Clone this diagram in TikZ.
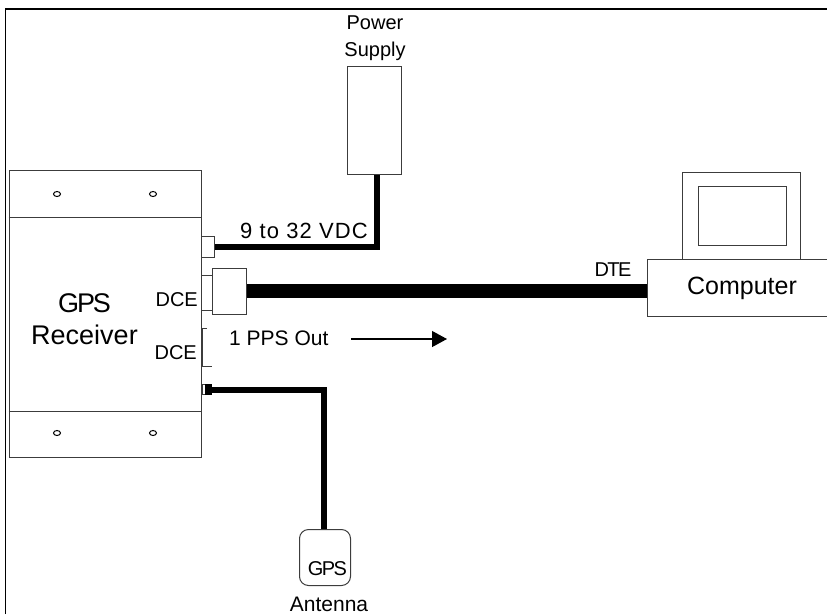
\documentclass[tikz,border=0pt]{standalone}
\usepackage{fontspec}
\setmainfont{Liberation Sans}
\newfontfamily\tightfont[LetterSpace=-8]{Liberation Sans}
\newfontfamily\wideFont[LetterSpace=5]{Liberation Sans}
\usetikzlibrary{arrows.meta,positioning,shapes.geometric}
\definecolor{boxgray}{RGB}{60,60,60}
\tikzset{
    box/.style={rectangle, draw=boxgray, fill=white, line width=1pt, inner sep=0pt, anchor=north west},
    hole/.style={ellipse, draw=black, line width=1pt, minimum width=7pt, minimum height=5pt, inner sep=0pt},
    wire/.style={line width=5.5pt, black},
    thickwire/.style={line width=13.5pt, black},
    caption/.style={font=\fontsize{21}{27}\selectfont, align=center, inner sep=0pt},
    smallcaption/.style={font=\fontsize{20}{24}\selectfont, inner sep=0pt},
}
\begin{document}
\begin{tikzpicture}[x=1pt,y=-1pt]
    \useasboundingbox (0,0) rectangle (827,614);
    % Frame
    \draw[line width=1.3pt] (5.5,614) -- (5.5,9) -- (827,9);

    % GPS receiver
    \node[box, minimum width=192.5pt, minimum height=287pt] (receiver) at (8.5,170) {};
    \draw[line width=1pt, boxgray] (8.5,217) -- (201,217);
    \draw[line width=1pt, boxgray] (8.5,411) -- (201,411);
    \foreach \x/\y/\name in {57/194/a, 153/194/b, 57/433/c, 153/433/d} {
        \node[hole] (hole\name) at (\x,\y) {};
    }
    \node[caption, font=\fontsize{27}{32}\selectfont] (gpslabel) at (84.5,319) {{\tightfont GPS}\\Receiver};

    % Power supply
    \node[box, minimum width=54pt, minimum height=108pt] (power) at (347,66) {};
    \node[caption, font=\fontsize{20}{27}\selectfont] (powerlabel) at (375,38) {Power\\Supply};
    \node[box, minimum width=13pt, minimum height=21pt] (powerplug) at (201,236) {};
    \coordinate (powercorner) at (377,247);
    \draw[wire, line join=miter] (powerplug.east) -- (powercorner) -- (power.south -| powercorner);
    \node[smallcaption, font=\fontsize{22}{24}\selectfont\wideFont, anchor=base west] (voltlabel) at (240,238) {9 to 32 VDC};

    % Computer
    \node[box, minimum width=118pt, minimum height=87pt] (monitor) at (682,172) {};
    \node[box, minimum width=88pt, minimum height=59pt] (screen) at (698,186) {};
    \node[box, minimum width=190pt, minimum height=57pt] (computer) at (647,259) {};
    \node[smallcaption, font=\fontsize{25}{27}\selectfont, anchor=base] (computerlabel) at (742,294) {Computer};

    % Serial link
    \node[box, minimum width=11pt, minimum height=35pt] (serialport) at (201,275) {};
    \node[box, minimum width=34pt, minimum height=46pt] (serialplug) at (212,268) {};
    \draw[thickwire] (serialplug.east |- 0,291) -- (computer.west |- 0,291);
    \node[smallcaption, font=\fontsize{20}{22}\selectfont\tightfont, anchor=base] (dtelabel) at (613,276) {DTE};
    \node[smallcaption, anchor=base east] (dcetop) at (198,306) {DCE};

    % 1 PPS output
    \node[smallcaption, anchor=base east] (dcebottom) at (197,359) {DCE};
    \coordinate (brtop) at (207,328);
    \coordinate (brbottom) at (212,366);
    \draw[line width=0.8pt, boxgray] (brtop) -- (202,328) -- (202,366) -- (brbottom);
    \node[smallcaption, font=\fontsize{21}{24}\selectfont, anchor=base west] (ppslabel) at (229,345) {1 PPS Out};
    \coordinate (arrowstart) at (351,339);
    \coordinate (arrowend) at (447,339);
    \draw[line width=1.2pt, -{Triangle[length=15pt,width=16pt]}] (arrowstart) -- (arrowend);

    % Antenna
    \node[box, minimum width=3pt, minimum height=10pt] (antport) at (202,384) {};
    \node[rectangle, fill=black, inner sep=0pt, minimum width=7pt, minimum height=11pt, anchor=west] (antplug) at (205,389.5) {};
    \node[box, rounded corners=9pt, minimum width=51pt, minimum height=56pt] (antenna) at (299,529) {};
    \coordinate (antcorner) at (324,389.5);
    \draw[wire, line width=6pt] (antplug.east) -- (antcorner) -- (antenna.north -| antcorner);
    \node[smallcaption, font=\fontsize{20}{22}\selectfont\tightfont, anchor=base] (gpstag) at (327.5,575) {GPS};
    \node[smallcaption, font=\fontsize{21}{24}\selectfont, anchor=base] (antennalabel) at (329,611) {Antenna};
\end{tikzpicture}
\end{document}
